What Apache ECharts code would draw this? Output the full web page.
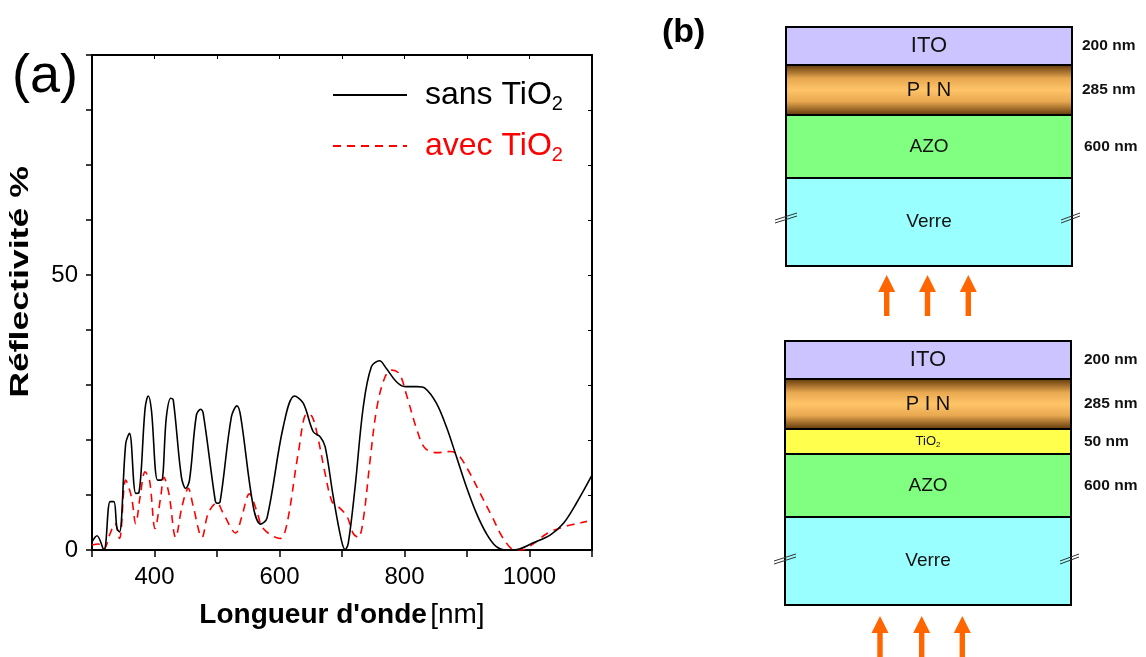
<!DOCTYPE html>
<html>
<head>
<meta charset="utf-8">
<script src="https://cdn.jsdelivr.net/npm/echarts@6/dist/echarts.min.js"></script>
<style>
html,body{margin:0;padding:0;background:#fff;}
#chart{width:1146px;height:657px;}
</style>
</head>
<body>
<div id="chart"></div>
<script>
// ---- data ----
const sansWavelength = [300,308,319,329,335,340,344,354,360,370,375,385,390,395,405,411,419,426,430,443,450,456,467,474,478,497,500,505,523,532,538,558,570,580,606,624,638,654,665,673,686,699,705,710,721,734,747,760,771,787,801,820,833,851,867,883,899,915,931,947,963,980,1006,1033,1054,1075,1100];
const sansReflect    = [1.5,2.6,0,8.8,8.8,3.9,3.3,19.4,21.2,10.3,10.4,25.8,28,25.5,12.7,12.7,24.2,27.6,27.3,13.3,11.2,12.7,24.5,25.6,24.8,9.1,8.5,8.8,24.2,26.2,24.2,7.9,4.7,5.8,22.4,28,26.7,21.5,20.6,18.8,9.7,1.8,0.1,1.2,11.5,26,33.3,34.4,33,30.6,29.7,29.7,29.4,26.7,22.4,17,11.5,6.7,3,0.6,0,0.1,1.3,2.7,4.8,8.5,13.6];
const avecWavelength = [300,310,319,329,337,344,354,363,370,377,385,392,401,410,415,423,434,444,454,462,476,486,500,509,530,539,552,563,574,601,612,630,644,652,660,673,684,694,708,718,726,734,745,756,769,780,792,804,820,833,852,873,886,902,921,940,958,977,988,1006,1028,1054,1076,1092];
const avecReflect    = [0.9,1.1,0.2,3,4.8,2.1,12.7,9.7,4.8,9.7,14.2,12.7,3.9,9.7,13.2,10.3,2.3,7.9,11.2,7.9,2.3,6.7,8.6,6.9,3.1,5.8,10.2,7.3,3.9,2.1,4.8,17.6,24.8,24.3,21.2,13.9,8.8,7.9,6.1,3,2.3,5.5,16.4,26,31.5,32.7,32,27.9,21.8,18.5,17.7,17.9,17.3,14.5,10.3,6.1,2.1,0,0,1.1,3,4.2,4.8,5.2];
const seriesNames = ['sans TiO2','avec TiO2'];
const xTickLabels = [400,600,800,1000];
const yTickLabels = [0,50];

// schematic (b): layer names and thickness labels
const stackTopLayers = ['ITO','PIN','AZO','Verre'];
const stackTopThick  = ['200 nm','285 nm','600 nm'];
const stackBotLayers = ['ITO','PIN','TiO2','AZO','Verre'];
const stackBotThick  = ['200 nm','285 nm','50 nm','600 nm'];

// ---- styles / layout ----
const FONT = '"Liberation Sans", Arial, sans-serif';
const layerFill = {
  'ITO': '#ccc4ff',
  'PIN': {type:'linear',x:0,y:0,x2:0,y2:1,colorStops:[
     {offset:0,color:'#5a3206'},{offset:0.28,color:'#e8a850'},{offset:0.5,color:'#ffc468'},
     {offset:0.72,color:'#e8a850'},{offset:1,color:'#5a3206'}]},
  'TiO2': '#ffff4d',
  'AZO': '#80ff80',
  'Verre': '#99ffff'
};
const layerFont = {'ITO':'22px','PIN':'20px','TiO2':'13px','AZO':'19px','Verre':'19px'};

function pair(xs, ys){ return xs.map((x,i)=>[x, ys[i]]); }

function buildStack(x0, x1, bounds, layers, thick, thickX, breakY, arrowXs, arrowTip, arrowBottom){
  const els = [];
  layers.forEach((name, i) => {
    const y0 = bounds[i], y1 = bounds[i+1];
    els.push({type:'rect', shape:{x:x0, y:y0, width:x1-x0, height:y1-y0},
      style:{fill:layerFill[name], stroke:'#000', lineWidth:2}, z:1});
    let txt = name;
    let rich;
    if (name === 'PIN') txt = 'P I N';
    if (name === 'TiO2') { txt = 'TiO{s|2}'; rich = {s:{fontSize:8, padding:[6,0,0,0], fill:'#111'}}; }
    els.push({type:'text', x:(x0+x1)/2, y:(y0+y1)/2, z:3,
      style:{text:txt, font:layerFont[name]+' '+FONT, fill:'#111', align:'center', verticalAlign:'middle', rich:rich}});
    if (i < thick.length) {
      els.push({type:'text', x:thickX[i], y:(y0+y1)/2, z:3,
        style:{text:thick[i], font:'bold 15.5px '+FONT, fill:'#111', align:'left', verticalAlign:'middle'}});
    }
  });
  // break marks
  [[x0-11, x0+11],[x1-11, x1+8]].forEach(([a,b]) => {
    for (let k=0;k<2;k++){
      els.push({type:'line', z:4, shape:{x1:a, y1:breakY+3+k*3, x2:b, y2:breakY-4+k*3},
        style:{stroke:'#333', lineWidth:1}});
    }
  });
  // arrows
  arrowXs.forEach(ax => {
    els.push({type:'polygon', z:4, shape:{points:[
      [ax, arrowTip],[ax+8.5, arrowTip+17],[ax+2.7, arrowTip+17],[ax+2.7, arrowBottom],
      [ax-2.7, arrowBottom],[ax-2.7, arrowTip+17],[ax-8.5, arrowTip+17]]},
      style:{fill:'#ff6600'}});
  });
  return els;
}

const chart = echarts.init(document.getElementById('chart'), null, {renderer:'canvas'});

const graphics = [
  {type:'text', x:12, y:77, style:{text:'(a)', font:'54px '+FONT, fill:'#000', verticalAlign:'middle'}},
  {type:'text', x:21, y:282, rotation:Math.PI/2, scaleX:1.37, scaleY:1,
   style:{text:'Réflectivité %', font:'bold 26px '+FONT, fill:'#000', align:'center', verticalAlign:'middle'}},
  {type:'text', x:662, y:33, style:{text:'(b)', font:'bold 34px '+FONT, fill:'#000', verticalAlign:'middle'}}
].concat(
  buildStack(786, 1072, [27,65,115,178,266], stackTopLayers, stackTopThick, [1082,1082,1084], 217,
             [886.7, 927.5, 968.3], 275, 316),
  buildStack(785, 1071, [341,379,429,454,517,605], stackBotLayers, stackBotThick, [1084,1084,1084,1084], 558,
             [880, 921.7, 962.3], 616, 657)
);

const option = {
  animation:false,
  backgroundColor:'#fff',
  grid:{left:92, top:55, width:500, height:495, containLabel:false},
  legend:{
    left:327, top:74, orient:'vertical', itemWidth:74, itemHeight:14, itemGap:16,
    itemStyle:{opacity:0},
    data:[{name:seriesNames[0], textStyle:{color:'#000'}},{name:seriesNames[1], textStyle:{color:'#ff0000'}}],
    formatter: n => n.replace('TiO2','TiO{sub|2}'),
    textStyle:{fontSize:32, fontFamily:FONT, padding:[0,0,0,13],
      rich:{sub:{fontSize:20, fontFamily:FONT, padding:[18,0,0,0]}}}
  },
  xAxis:[
    {type:'value', min:300, max:1100, interval:100, position:'bottom',
     name:'{b|Longueur d\'onde} {n|[nm]}', nameLocation:'middle', nameGap:51,
     nameTextStyle:{rich:{b:{fontSize:28, fontWeight:'bold', fontFamily:FONT, color:'#000'},
                          n:{fontSize:28, fontFamily:FONT, color:'#000'}}},
     axisLine:{show:true, onZero:false, lineStyle:{color:'#000', width:2}},
     axisTick:{show:true, inside:false, length:7, lineStyle:{color:'#000', width:1.5}},
     axisLabel:{margin:15, fontSize:24, fontFamily:FONT, color:'#000',
       formatter: v => xTickLabels.includes(v) ? String(v) : ''},
     splitLine:{show:false}},
    {type:'value', min:300, max:1100, interval:100, position:'top',
     axisLine:{show:true, onZero:false, lineStyle:{color:'#000', width:2}},
     axisTick:{show:true, inside:true, length:4, lineStyle:{color:'#000', width:1}},
     axisLabel:{show:false}, splitLine:{show:false}}
  ],
  yAxis:[
    {type:'value', min:0, max:90, interval:10, position:'left',
     axisLine:{show:true, onZero:false, lineStyle:{color:'#000', width:2}},
     axisTick:{show:true, inside:false, length:6, lineStyle:{color:'#000', width:1.5}},
     axisLabel:{margin:14, fontSize:24, fontFamily:FONT, color:'#000',
       formatter: v => yTickLabels.includes(v) ? String(v) : ''},
     splitLine:{show:false}},
    {type:'value', min:0, max:90, interval:10, position:'right',
     axisLine:{show:true, onZero:false, lineStyle:{color:'#000', width:2}},
     axisTick:{show:true, inside:true, length:4, lineStyle:{color:'#000', width:1}},
     axisLabel:{show:false}, splitLine:{show:false}}
  ],
  series:[
    {name:seriesNames[0], type:'line', data:pair(sansWavelength, sansReflect), smooth:0.35,
     symbol:'none', showSymbol:false, lineStyle:{color:'#000', width:1.6}, itemStyle:{color:'#000'}, z:3},
    {name:seriesNames[1], type:'line', data:pair(avecWavelength, avecReflect), smooth:0.35,
     symbol:'none', showSymbol:false, lineStyle:{color:'#ff0000', width:1.6, type:[8,6]}, itemStyle:{color:'#ff0000'}, z:2}
  ],
  graphic:graphics
};
chart.setOption(option);
</script>
</body>
</html>
